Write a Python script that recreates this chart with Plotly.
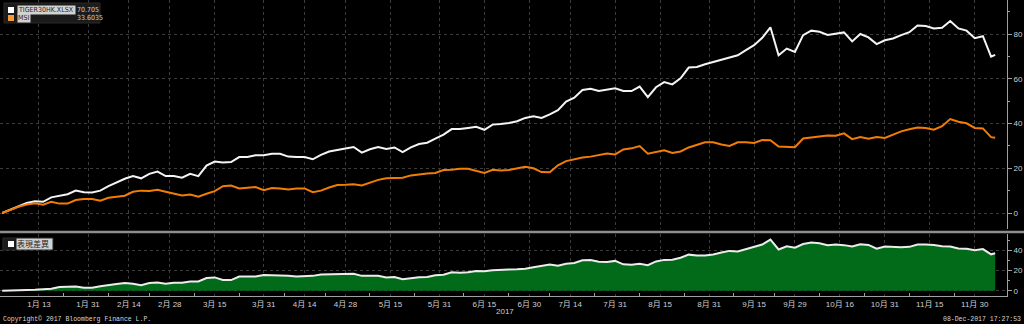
import pandas as pd
import plotly.graph_objects as go

# ---- data -------------------------------------------------------------
# trading days sampled every second session, plus the final session
all_days = pd.bdate_range("2017-01-02", "2017-12-07")
dates = list(all_days[::2]) + [all_days[-1]]

tiger30hk = [
    0, 1.5, 3.0, 4.5, 5.2, 5.0, 7.0, 7.8, 8.4, 10.0,
    9.3, 9.2, 10.0, 12.0, 13.8, 15.3, 16.5, 15.5, 17.5, 18.5,
    16.5, 16.5, 15.8, 17.5, 16.5, 21.2, 23.0, 22.6, 22.8, 25.0,
    25.0, 25.8, 25.8, 26.5, 26.5, 25.2, 25.0, 25.0, 24.0, 26.0,
    27.5, 28.3, 28.8, 29.5, 27.0, 28.5, 29.5, 28.6, 29.3, 27.2,
    29.3, 30.8, 31.4, 33.2, 35.0, 37.5, 37.5, 38.0, 38.5, 37.2,
    39.5, 39.8, 40.2, 41.0, 42.5, 43.2, 42.5, 44.1, 46.0, 49.8,
    51.5, 55.0, 55.5, 54.5, 55.0, 55.7, 54.5, 54.5, 56.5, 51.8,
    56.2, 58.5, 57.5, 60.2, 65.0, 65.3, 66.5, 67.5, 68.5, 69.4,
    70.5, 72.8, 75.0, 78.3, 83.0, 70.5, 73.5, 72.0, 79.5, 81.5,
    81.0, 79.6, 80.2, 80.7, 76.7, 80.0, 78.5, 75.5, 77.2, 78.0,
    79.5, 80.8, 83.8, 83.6, 82.5, 82.8, 85.8, 82.5, 81.5, 78.1,
    79.0, 69.9, 70.705,
]

msi = [
    0, 1.5, 2.8, 3.8, 4.3, 3.7, 5.0, 4.2, 4.2, 5.8,
    6.3, 6.3, 5.5, 6.8, 7.2, 7.7, 9.5, 10.0, 9.8, 10.4,
    9.5, 8.6, 7.8, 8.3, 7.3, 8.6, 9.8, 12.0, 12.3, 11.0,
    11.2, 11.6, 10.2, 11.2, 11.0, 10.5, 11.0, 11.0, 9.3, 10.0,
    11.4, 12.5, 12.6, 12.8, 12.3, 13.6, 14.8, 15.5, 15.8, 15.8,
    16.8, 17.4, 17.7, 17.9, 19.2, 19.3, 19.8, 19.8, 18.9, 17.9,
    19.3, 19.0, 19.2, 19.8, 20.7, 20.0, 18.3, 18.2, 21.3, 23.2,
    24.0, 24.8, 25.2, 25.8, 26.6, 26.2, 28.4, 28.9, 29.9, 26.5,
    27.2, 28.0, 26.8, 27.5, 29.3, 30.4, 31.6, 31.6, 30.6, 30.0,
    31.6, 31.6, 31.3, 32.6, 32.5, 29.7, 29.5, 29.4, 33.3, 33.8,
    34.0, 34.6, 34.5, 35.6, 33.0, 34.0, 33.2, 34.0, 33.5, 35.0,
    36.5, 37.4, 38.2, 38.0, 37.2, 38.8, 42.0, 40.8, 40.1, 38.0,
    37.8, 33.9, 33.6035,
]

# performance difference between the two series
spread = [round(a - b, 4) for a, b in zip(tiger30hk, msi)]

tick_dates = [
    "2017-01-13", "2017-01-31", "2017-02-14", "2017-02-28", "2017-03-15",
    "2017-03-31", "2017-04-14", "2017-04-28", "2017-05-15", "2017-05-31",
    "2017-06-15", "2017-06-30", "2017-07-14", "2017-07-31", "2017-08-15",
    "2017-08-31", "2017-09-15", "2017-09-29", "2017-10-16", "2017-10-31",
    "2017-11-15", "2017-11-30",
]
tick_text = [
    "1月 13", "1月 31", "2月 14", "2月 28", "3月 15", "3月 31", "4月 14",
    "4月 28", "5月 15", "5月 31", "6月 15", "6月 30", "7月 14", "7月 31",
    "8月 15", "8月 31", "9月 15", "9月 29", "10月 16", "10月 31",
    "11月 15", "11月 30",
]

series_names = ["TIGER30HK.XLSX", "MSI"]
spread_name = "表現差異"

# ---- geometry helpers ---------------------------------------------------
W, H = 1024, 324
ML, MR, MT, MB = 0, 17, 0, 28
PW, PH = W - ML - MR, H - MT - MB


def px(x):
    return (x - ML) / PW


def py(y):
    return 1 - (y - MT) / PH


# minor ticks halfway (in sessions) between labelled dates
minor_vals = []
for a, b in zip(tick_dates[:-1], tick_dates[1:]):
    span = pd.bdate_range(a, b)
    minor_vals.append(span[len(span) // 2])

x_range = ["2016-12-30 11:00", "2017-12-11 21:30"]
weekend_breaks = [dict(bounds=["sat", "mon"])]

GRID = "#3c3c3c"
AXIS = "#a0a0a0"
TXT = "#cfcfcf"
FONT = "Liberation Sans, Noto Sans CJK TC, sans-serif"
NARROW = "Liberation Sans Narrow, DejaVu Sans Condensed, Liberation Sans, sans-serif"
MONO = "Liberation Mono, DejaVu Sans Mono, monospace"

fig = go.Figure()
fig.add_trace(go.Scatter(x=dates, y=tiger30hk, mode="lines",
                         line=dict(color="#f4f4f4", width=2),
                         xaxis="x", yaxis="y", name=series_names[0]))
fig.add_trace(go.Scatter(x=dates, y=msi, mode="lines",
                         line=dict(color="#f27d05", width=2),
                         xaxis="x", yaxis="y", name=series_names[1]))
fig.add_trace(go.Scatter(x=dates, y=spread, mode="lines", fill="tozeroy",
                         fillcolor="#026b1a",
                         line=dict(color="#ececec", width=2),
                         xaxis="x2", yaxis="y2", name=spread_name))

top_dom = [py(229), 1]
bot_dom = [0, py(234)]

common_x = dict(
    type="date", range=x_range, rangebreaks=weekend_breaks,
    tickmode="array", tickvals=tick_dates, ticktext=tick_text,
    showgrid=True, gridcolor=GRID, griddash="dot", gridwidth=1,
    zeroline=False,
)

fig.update_layout(
    width=W, height=H,
    margin=dict(l=ML, r=MR, t=MT, b=MB),
    paper_bgcolor="#000000", plot_bgcolor="#000000",
    showlegend=False,
    font=dict(family=FONT, color=TXT, size=8),
    xaxis=dict(**common_x, anchor="y", showticklabels=False, ticks=""),
    xaxis2=dict(**common_x, anchor="y2", showticklabels=True, ticks="",
                tickfont=dict(size=8, color=TXT, family=FONT),
                showline=True, linecolor=AXIS, linewidth=1,
                minor=dict(tickmode="array", tickvals=minor_vals,
                           ticks="inside", ticklen=3, tickcolor=AXIS,
                           showgrid=False)),
    yaxis=dict(domain=top_dom, range=[-7.15, 95.2], side="right",
               anchor="x", tickmode="array", tickvals=[0, 20, 40, 60, 80],
               showgrid=True, gridcolor=GRID, griddash="dot", zeroline=False,
               showline=True, linecolor=AXIS, linewidth=1,
               ticks="outside", ticklen=4, tickcolor=AXIS,
               tickfont=dict(size=8, color=TXT),
               minor=dict(tickmode="array", tickvals=[10, 30, 50, 70, 90],
                          ticks="outside", ticklen=2, tickcolor=AXIS,
                          showgrid=False)),
    yaxis2=dict(domain=bot_dom, range=[-5.2, 56.1], side="right",
                anchor="x2", tickmode="array", tickvals=[0, 20, 40],
                showgrid=True, gridcolor=GRID, griddash="dot", zeroline=False,
                showline=True, linecolor=AXIS, linewidth=1,
                ticks="outside", ticklen=4, tickcolor=AXIS,
                tickfont=dict(size=8, color=TXT),
                minor=dict(tickmode="array", tickvals=[10, 30, 50],
                           ticks="outside", ticklen=2, tickcolor=AXIS,
                           showgrid=False)),
)

shapes = [
    # panel separator
    dict(type="line", xref="paper", yref="paper", x0=px(0), x1=px(W),
         y0=py(232), y1=py(232), line=dict(color="#8e8e8e", width=2.5)),
    # legend frames
    dict(type="rect", xref="paper", yref="paper", x0=px(4), x1=px(100),
         y0=py(23), y1=py(3), fillcolor="#1b1b1b",
         line=dict(color="#2b2b2b", width=1)),
    dict(type="rect", xref="paper", yref="paper", x0=px(8), x1=px(14),
         y0=py(13), y1=py(7), fillcolor="#ffffff", line=dict(width=0)),
    dict(type="rect", xref="paper", yref="paper", x0=px(8), x1=px(14),
         y0=py(21), y1=py(15), fillcolor="#f59a3a", line=dict(width=0)),
    dict(type="rect", xref="paper", yref="paper", x0=px(3), x1=px(53),
         y0=py(250), y1=py(238), fillcolor="#1b1b1b",
         line=dict(color="#2b2b2b", width=1)),
    dict(type="rect", xref="paper", yref="paper", x0=px(8), x1=px(14),
         y0=py(247), y1=py(241), fillcolor="#ffffff", line=dict(width=0)),
]
fig.update_layout(shapes=shapes)


def label(text, x, y, xanchor="left", size=8, color=TXT, bg=None,
          family=FONT, width=None):
    fig.add_annotation(text=text, xref="paper", yref="paper",
                       x=px(x), y=py(y), xanchor=xanchor, yanchor="middle",
                       showarrow=False, borderpad=0, bgcolor=bg,
                       width=width, align="left",
                       font=dict(size=size, color=color, family=family))


label(series_names[0], 17, 10, size=7, color="#1e1e1e", bg="#d2d2d2",
      family=NARROW, width=57)
label(f"{tiger30hk[-1]:g}", 76, 10, size=7, family=NARROW)
label(series_names[1], 17, 18, size=7, color="#1e1e1e", bg="#d2d2d2",
      family=NARROW, width=12)
label(f"{msi[-1]:g}", 76, 18, size=7, family=NARROW)
label(spread_name, 16, 244, size=8, color="#1e1e1e", bg="#d2d2d2",
      width=35)
label("2017", 505, 311, xanchor="center")
label("Copyright\u00a9 2017 Bloomberg Finance L.P.", 2, 319, size=6.5,
      color="#d8d8d8", family=MONO)
label("08-Dec-2017 17:27:53", 1022, 319, xanchor="right", size=6.5,
      color="#d8d8d8", family=MONO)

fig.write_html("out.html")
